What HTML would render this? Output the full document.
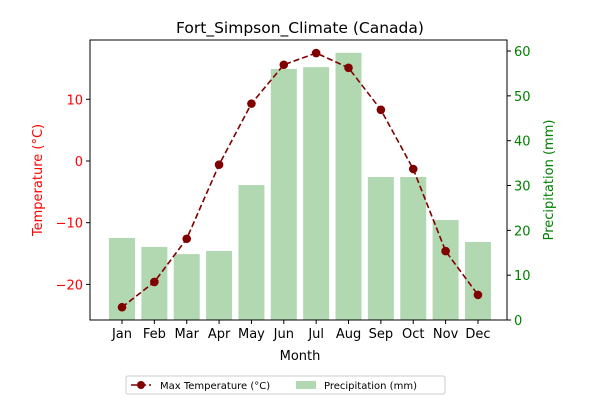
<!DOCTYPE html>
<html><head><meta charset="utf-8"><style>
body{margin:0;background:#fff;font-family:"Liberation Sans","DejaVu Sans",sans-serif}
svg text{font-family:"DejaVu Sans","Liberation Sans",sans-serif}
</style></head><body>
<svg id="c" width="600" height="400" xmlns="http://www.w3.org/2000/svg"></svg>
<script>
const months=["Jan","Feb","Mar","Apr","May","Jun","Jul","Aug","Sep","Oct","Nov","Dec"];
const maxTemp=[-23.7,-19.6,-12.6,-0.6,9.3,15.6,17.5,15.1,8.3,-1.3,-14.6,-21.7];
const precip=[18.3,16.3,14.7,15.4,30.1,56.0,56.4,59.6,31.9,31.9,22.3,17.4];
const tempTicks=[-20,-10,0,10];
const precipTicks=[0,10,20,30,40,50,60];
const NS="http://www.w3.org/2000/svg";
const svg=document.getElementById('c');
const L=90,R=507,T=40,B=320;
const yT=v=>161-v*6.17;
const yP=v=>320-v*4.483;
const xM=i=>122+i*32.36;
function el(tag,attrs,name,txt){const e=document.createElementNS(NS,tag);for(const k in attrs)e.setAttribute(k,attrs[k]);


if(txt!==undefined)e.textContent=txt;svg.appendChild(e);return e;}
precip.forEach((v,i)=>{el('rect',{x:xM(i)-13,y:yP(v),width:26,height:B-yP(v),fill:'#b1d8b1'},'precip-bar-'+months[i].toLowerCase());});
el('rect',{x:L,y:T,width:R-L,height:B-T,fill:'none',stroke:'#000','stroke-width':1},'plot-frame');
months.forEach((m,i)=>{el('line',{x1:xM(i),x2:xM(i),y1:B,y2:B+4,stroke:'#000'},'x-tick');
el('text',{x:xM(i),y:B+18,'text-anchor':'middle','font-size':13},'x-tick-label',m);});
tempTicks.forEach(t=>{el('line',{x1:L-4,x2:L,y1:yT(t),y2:yT(t),stroke:'#000'},'temp-tick');
el('text',{x:L-7,y:yT(t)+5,'text-anchor':'end','font-size':13,fill:'red'},'temp-tick-label',t<0?'\u2212'+(-t):String(t));});
precipTicks.forEach(t=>{el('line',{x1:R,x2:R+4,y1:yP(t),y2:yP(t),stroke:'#000'},'precip-tick');
el('text',{x:R+7,y:yP(t)+5,'text-anchor':'start','font-size':13,fill:'green'},'precip-tick-label',String(t));});
el('polyline',{points:maxTemp.map((v,i)=>xM(i)+','+yT(v)).join(' '),fill:'none',stroke:'#800000','stroke-width':1.6,'stroke-dasharray':'6,3'},'temp-line');
maxTemp.forEach((v,i)=>el('circle',{cx:xM(i),cy:yT(v),r:4.3,fill:'#800000'},'temp-point-'+months[i].toLowerCase()));
el('text',{x:300,y:33,'text-anchor':'middle','font-size':15.5},'chart-title','Fort_Simpson_Climate (Canada)');
el('text',{x:300,y:360,'text-anchor':'middle','font-size':13},'x-axis-title','Month');
el('text',{x:0,y:0,'text-anchor':'middle','font-size':13,fill:'red',transform:'translate(42,180) rotate(-90)'},'temp-axis-title','Temperature (°C)');
el('text',{x:0,y:0,'text-anchor':'middle','font-size':13,fill:'green',transform:'translate(553,180) rotate(-90)'},'precip-axis-title','Precipitation (mm)');
el('rect',{x:126,y:376,width:319,height:18,fill:'#fff',stroke:'#ccc',rx:2},'legend');
el('line',{x1:131,x2:151,y1:385,y2:385,stroke:'#800000','stroke-width':1.6,'stroke-dasharray':'6,3'},'legend-temp-line');
el('circle',{cx:141,cy:385,r:4,fill:'#800000'},'legend-temp-marker');
el('text',{x:160,y:389,'font-size':10},'legend-temp-label','Max Temperature (°C)');
el('rect',{x:296,y:381,width:20,height:8,fill:'#b1d8b1'},'legend-precip-swatch');
el('text',{x:324,y:389,'font-size':10},'legend-precip-label','Precipitation (mm)');
</script>
</body></html>
